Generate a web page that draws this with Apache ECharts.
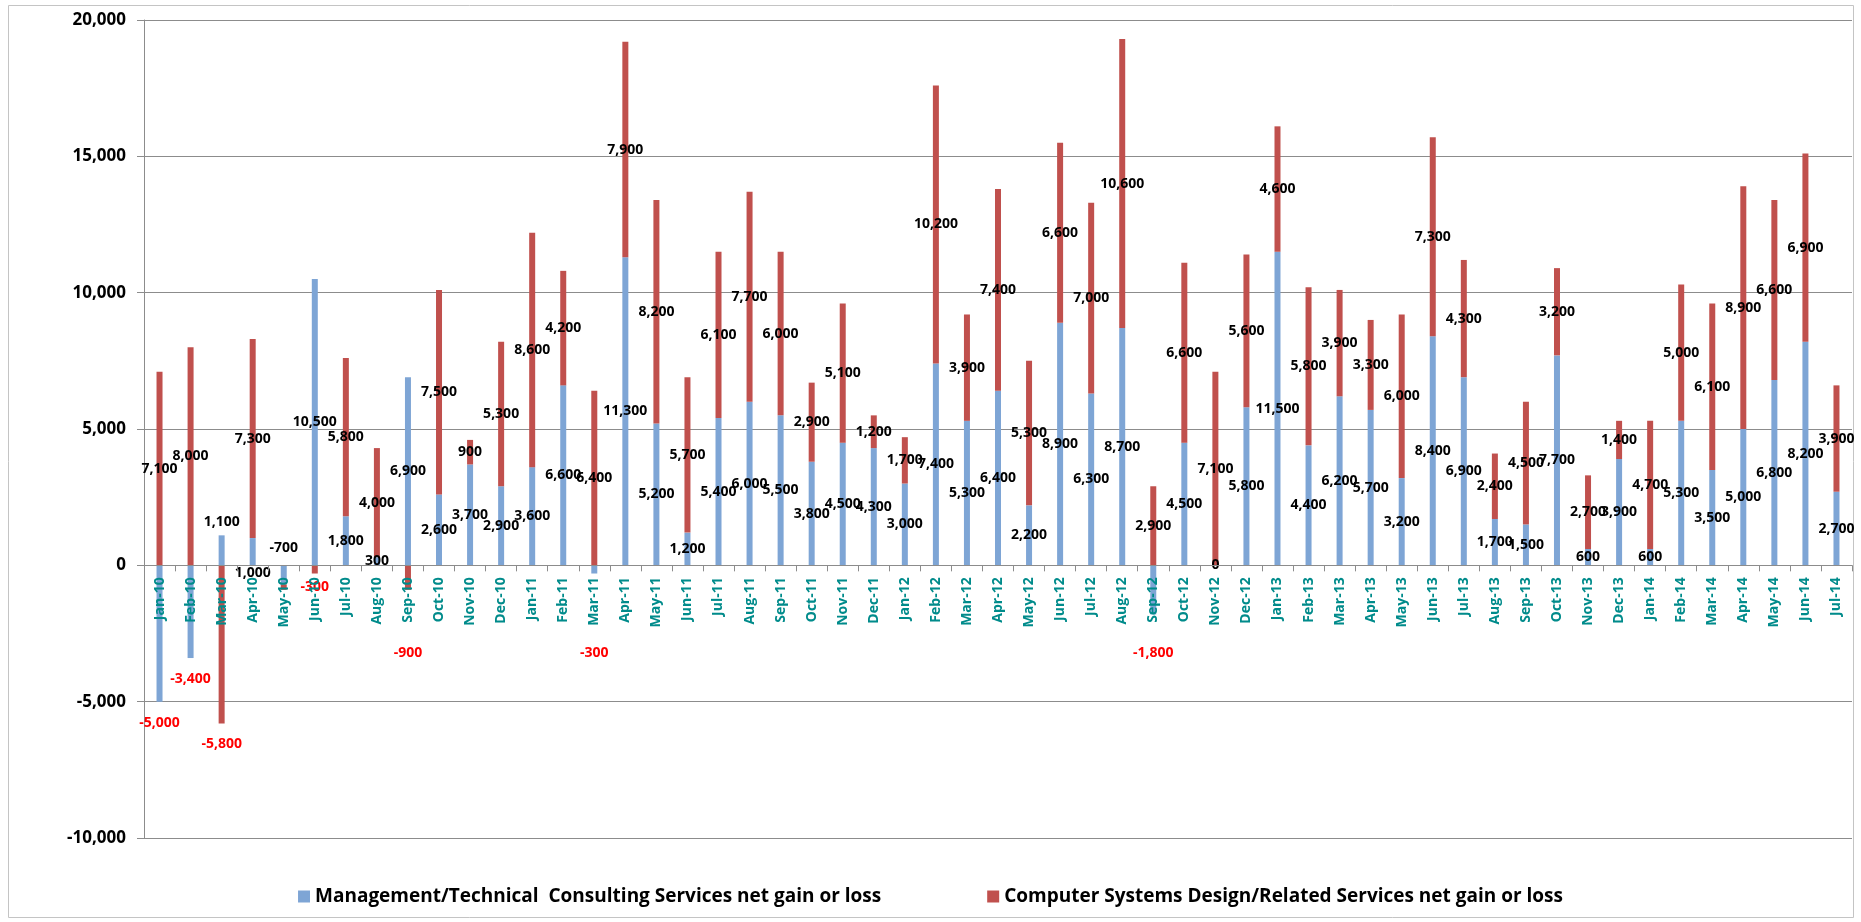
<!DOCTYPE html>
<html>
<head>
<meta charset="utf-8">
<script src="https://cdn.jsdelivr.net/npm/echarts@6/dist/echarts.min.js"></script>
<style>
html,body{margin:0;padding:0;background:#fff;}
#chart{width:1861px;height:922px;}
</style>
</head>
<body>
<div id="chart"></div>
<script>
const categories = [
  'Jan-10','Feb-10','Mar-10','Apr-10','May-10','Jun-10','Jul-10','Aug-10','Sep-10','Oct-10','Nov-10','Dec-10',
  'Jan-11','Feb-11','Mar-11','Apr-11','May-11','Jun-11','Jul-11','Aug-11','Sep-11','Oct-11','Nov-11','Dec-11',
  'Jan-12','Feb-12','Mar-12','Apr-12','May-12','Jun-12','Jul-12','Aug-12','Sep-12','Oct-12','Nov-12','Dec-12',
  'Jan-13','Feb-13','Mar-13','Apr-13','May-13','Jun-13','Jul-13','Aug-13','Sep-13','Oct-13','Nov-13','Dec-13',
  'Jan-14','Feb-14','Mar-14','Apr-14','May-14','Jun-14','Jul-14'
];
const mgmtValues = [
  -5000,-3400,1100,1000,-700,10500,1800,300,6900,2600,3700,2900,
  3600,6600,-300,11300,5200,1200,5400,6000,5500,3800,4500,4300,
  3000,7400,5300,6400,2200,8900,6300,8700,-1800,4500,0,5800,
  11500,4400,6200,5700,3200,8400,6900,1700,1500,7700,600,3900,
  600,5300,3500,5000,6800,8200,2700
];
const compValues = [
  7100,8000,-5800,7300,-200,-300,5800,4000,-900,7500,900,5300,
  8600,4200,6400,7900,8200,5700,6100,7700,6000,2900,5100,1200,
  1700,10200,3900,7400,5300,6600,7000,10600,2900,6600,7100,5600,
  4600,5800,3900,3300,6000,7300,4300,2400,4500,3200,2700,1400,
  4700,5000,6100,8900,6600,6900,3900
];
const seriesNames = [
  'Management/Technical  Consulting Services net gain or loss',
  'Computer Systems Design/Related Services net gain or loss'
];
const yTicks = { min: -10000, max: 20000, interval: 5000 };

// ---- layout / styling (not data) ----
const GRID = { left: 144, right: 9, top: 20, bottom: 84 };
const plotH = 922 - GRID.top - GRID.bottom;
const pxPerUnit = plotH / (yTicks.max - yTicks.min);
const zeroFromBottom = (0 - yTicks.min) * pxPerUnit;
const fmt = v => v.toLocaleString('en-US');

// manual label nudges (pixels) mimicking hand-placed labels in the original
const nudgeMgmt = { 2: -28, 3: 21, 4: -27 };
const nudgeComp = { 5: 18 };
const hiddenComp = { 4: true };
const blackNegMgmt = { 4: true };

function buildData(values, nudges, hidden, blackNeg) {
  return values.map((v, i) => {
    let off = 0;
    let color = '#000';
    if (v < 0) {
      color = blackNeg && blackNeg[i] ? '#000' : '#FF0000';
      const half = Math.abs(v) * pxPerUnit / 2;
      off = Math.max(half + 21, 88 - half);
    }
    if (nudges[i] !== undefined) off = nudges[i];
    return {
      value: v,
      label: {
        show: !(hidden && hidden[i]),
        offset: [0, off],
        color: color
      }
    };
  });
}

const chart = echarts.init(document.getElementById('chart'), null, { renderer: 'canvas' });
const labelFont = { fontFamily: "'Open Sans', sans-serif", fontWeight: 'bold', fontSize: 14 };

const option = {
  animation: false,
  backgroundColor: '#fff',
  graphic: [{
    type: 'rect',
    shape: { x: 8.5, y: 5.5, width: 1845, height: 912 },
    style: { fill: 'none', stroke: '#c4c4c4', lineWidth: 1 },
    silent: true, z: -10
  }],
  grid: GRID,
  legend: {
    bottom: 11,
    left: 'center',
    icon: 'rect',
    itemWidth: 12,
    itemHeight: 12,
    itemGap: 106,
    textStyle: {
      fontFamily: "'Open Sans', sans-serif",
      fontWeight: 'bold',
      fontSize: 19,
      color: '#000'
    },
    data: seriesNames
  },
  xAxis: {
    type: 'category',
    data: categories,
    offset: -zeroFromBottom,
    z: 3,
    axisLine: { onZero: false, lineStyle: { color: '#8c8c8c', width: 1 } },
    axisTick: { show: true, length: 6, lineStyle: { color: '#8c8c8c' } },
    axisLabel: {
      rotate: 90,
      interval: 0,
      margin: 12,
      color: '#008B8B',
      fontFamily: "'Open Sans', sans-serif",
      fontWeight: 'bold',
      fontSize: 14
    }
  },
  yAxis: {
    type: 'value',
    min: yTicks.min,
    max: yTicks.max,
    interval: yTicks.interval,
    axisLine: { show: true, lineStyle: { color: '#8c8c8c' } },
    axisTick: { show: true, length: 7, lineStyle: { color: '#8c8c8c' } },
    splitLine: { lineStyle: { color: '#8c8c8c', width: 1 } },
    axisLabel: {
      margin: 18,
      color: '#000',
      fontFamily: "'Open Sans', sans-serif",
      fontWeight: 'bold',
      fontSize: 17,
      formatter: v => fmt(v)
    }
  },
  series: [
    {
      name: seriesNames[0],
      type: 'bar',
      stack: 'total',
      barWidth: 6,
      itemStyle: { color: '#7EA5D5' },
      label: Object.assign({
        show: true, position: 'inside', textBorderWidth: 0,
        formatter: p => fmt(p.value)
      }, labelFont),
      data: buildData(mgmtValues, nudgeMgmt, null, blackNegMgmt)
    },
    {
      name: seriesNames[1],
      type: 'bar',
      stack: 'total',
      barWidth: 6,
      itemStyle: { color: '#C0504D' },
      label: Object.assign({
        show: true, position: 'inside', textBorderWidth: 0,
        formatter: p => fmt(p.value)
      }, labelFont),
      data: buildData(compValues, nudgeComp, hiddenComp, null)
    }
  ]
};
chart.setOption(option);
</script>
</body>
</html>
